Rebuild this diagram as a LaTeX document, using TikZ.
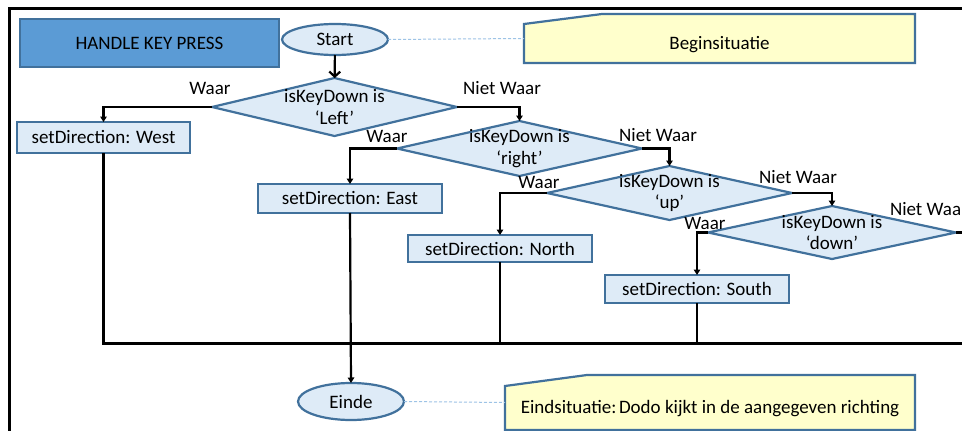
\documentclass[tikz,border=0pt]{standalone}
\usepackage{fontspec}
\setmainfont{Carlito}
\usetikzlibrary{shapes.geometric,arrows.meta,calc,backgrounds}
\definecolor{boxfill}{HTML}{DEEBF7}
\definecolor{boxline}{HTML}{41719C}
\definecolor{headfill}{HTML}{5B9BD5}
\definecolor{notefill}{HTML}{FFFFCC}
\definecolor{dashblue}{HTML}{9DC3E6}
\begin{document}
\begin{tikzpicture}[x=1pt,y=-1pt,
  every node/.style={font=\fontsize{19}{21.5}\selectfont, inner sep=0pt, outer sep=0pt},
  procbox/.style={draw=boxline, line width=2.2pt, fill=boxfill, rectangle},
  headbox/.style={draw=boxline, line width=2.2pt, fill=headfill, rectangle},
  term/.style={draw=boxline, line width=2.2pt, fill=boxfill, ellipse},
  decision/.style={draw=boxline, line width=2.2pt, fill=boxfill, diamond},
  note/.style={rectangle, text height=26pt, text depth=4pt},
  notefrm/.style={draw=boxline, line width=2.2pt, fill=notefill},
  flow/.style={draw=black, line width=2.2pt, -{Triangle[length=5.5pt,width=6.5pt]}},
  plain/.style={draw=black, line width=2.2pt},
  startflow/.style={draw=black, line width=2.2pt, -{Straight Barb[length=5pt,width=11pt]}},
  link/.style={draw=dashblue, line width=1pt, dash pattern=on 3pt off 2pt},
  tag/.style={}
]
\useasboundingbox (0,0) rectangle (962,431);
\clip (0,0) rectangle (962,431);
\begin{scope}[on background layer]
  \fill[white] (0,0) rectangle (962,431);
\end{scope}
\draw[line width=2.6pt] (9.3,600) |- (1100,8.7);

% nodes
\node[headbox, minimum width=259pt, minimum height=48pt] (head) at (149.5,43) {HANDLE KEY PRESS};
\node[term, minimum width=106pt, minimum height=31pt] (start) at (335,39.5) {Start};
\node[decision, minimum width=245pt, minimum height=58pt,
  label={[align=center]center:isKeyDown is\\‘Left’}] (d1) at (334.5,107) {};
\node[procbox, minimum width=173pt, minimum height=31pt] (west) at (103.5,137.5) {setDirection: West};
\node[decision, minimum width=245pt, minimum height=55pt,
  label={[align=center]center:isKeyDown is\\‘right’}] (d2) at (519.5,148.5) {};
\node[procbox, minimum width=184pt, minimum height=29pt] (east) at (350,198.5) {setDirection: East};
\node[decision, minimum width=245pt, minimum height=54pt,
  label={[align=center]center:isKeyDown is\\‘up’}] (d3) at (669.5,193) {};
\node[procbox, minimum width=184pt, minimum height=27pt] (north) at (500,248.5) {setDirection: North};
\node[decision, minimum width=248pt, minimum height=53pt,
  label={[align=center]center:isKeyDown is\\‘down’}] (d4) at (832,232.5) {};
\node[procbox, minimum width=184pt, minimum height=28pt] (south) at (697,289) {setDirection: South};
\node[term, minimum width=106pt, minimum height=37pt] (einde) at (351,401.5) {Einde};

\node[note, minimum width=391pt, minimum height=49pt] (begin) at (719.5,38.5) {Beginsituatie};
\node[note, minimum width=410pt, minimum height=55pt] (eind) at (710,402.5) {Eindsituatie:\hspace{2.5pt}Dodo kijkt in de aangegeven richting};
\begin{scope}[on background layer]
  \draw[notefrm] ($(begin.north west)+(0,10)$) -- ($(begin.north west)+(78,0)$) -- (begin.north east) -- (begin.south east) -- (begin.south west) -- cycle;
  \draw[notefrm] ($(eind.north west)+(0,11)$) -- ($(eind.north west)+(82,0)$) -- (eind.north east) -- (eind.south east) -- (eind.south west) -- cycle;
\end{scope}

% branch labels
\node[tag] (w1) at (210,88) {Waar};
\node[tag] (n1) at (502,88) {Niet Waar};
\node[tag] (w2) at (387,136) {Waar};
\node[tag] (n2) at (658,135) {Niet Waar};
\node[tag] (w3) at (539,182) {Waar};
\node[tag] (n3) at (798,177) {Niet Waar};
\node[tag] (w4) at (705,223) {Waar};
\node[tag, anchor=west] (n4) at (890,209) {Niet Waar};

% connectors
\coordinate (exitR) at (980,232.5);
\coordinate (mergeR) at (980,343.5);
\draw[startflow] (start) -- (d1);
\draw[flow] (d1.west) -| (west.north);
\draw[flow] (d1.east) -| (d2.north);
\draw[flow] (d2.west) -| (east.north);
\draw[flow] (d2.east) -| (d3.north);
\draw[flow] (d3.west) -| (north.north);
\draw[flow] (d3.east) -| (d4.north);
\draw[flow] (d4.west) -| (south.north);
\draw[plain] (d4.east) -- (exitR);
\draw[plain] (west.south) |- (mergeR);
\draw[plain] (north.south) -- (north.south |- mergeR);
\draw[plain] (south.south) -- (south.south |- mergeR);
\draw[flow] (east.south) -- (einde.north);
\draw[link] (start.east) -- (begin.west);
\draw[link] (einde.east) -- (eind.west);
\end{tikzpicture}
\end{document}
